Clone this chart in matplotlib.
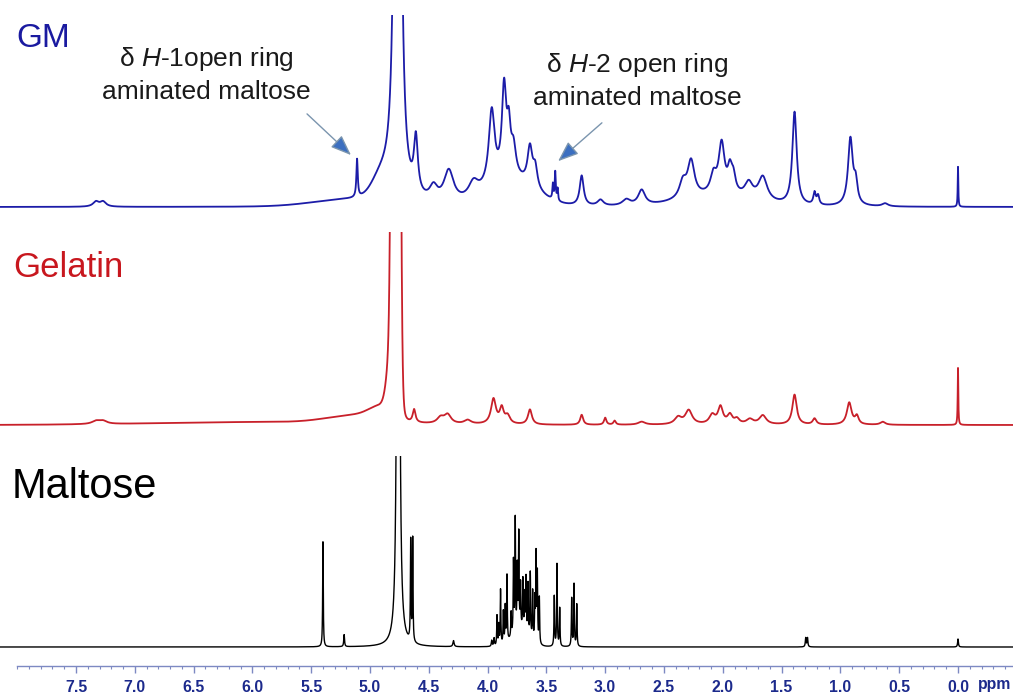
import numpy as np
import matplotlib
matplotlib.use("Agg")
import matplotlib.pyplot as plt
from matplotlib.ticker import FixedLocator, FormatStrFormatter

# ---- data (ppm, height in px above baseline, half width in ppm)
gm_lorentz = [
    (4.765, 2500, 0.013),
    (7.33, 5, 0.03), (7.27, 5, 0.03),
    (5.11, 38, 0.007),
    (4.61, 55, 0.02),
    (4.46, 14, 0.04), (4.33, 32, 0.05), (4.12, 15, 0.05),
    (3.965, 74, 0.03), (3.86, 88, 0.022), (3.82, 42, 0.018), (3.78, 28, 0.025),
    (3.64, 38, 0.025), (3.595, 20, 0.022),
    (3.445, 15, 0.005), (3.425, 28, 0.005), (3.405, 12, 0.005),
    (3.20, 30, 0.02),
    (3.04, 6, 0.03), (2.82, 6, 0.04), (2.69, 15, 0.035),
    (2.34, 16, 0.035), (2.27, 36, 0.035),
    (2.08, 18, 0.03), (2.01, 50, 0.03), (1.94, 22, 0.022), (1.91, 16, 0.022),
    (1.78, 15, 0.04), (1.66, 24, 0.045),
    (1.39, 93, 0.022), (1.22, 12, 0.012), (1.19, 9, 0.012),
    (0.915, 67, 0.024), (0.87, 20, 0.018),
    (0.62, 3, 0.03),
    (0.0, 40, 0.003),
]
gm_gauss = [
    (4.90, 20, 0.08), (5.20, 6, 0.3),
    (3.80, 25, 0.2), (2.05, 10, 0.3),
]

gelatin_lorentz = [
    (7.33, 3, 0.04), (7.27, 3, 0.04),
    (4.625, 13, 0.014),
    (4.40, 6, 0.035), (4.34, 9, 0.035),
    (4.17, 4, 0.035),
    (3.95, 25, 0.025), (3.88, 15, 0.02), (3.83, 8, 0.025),
    (3.64, 15, 0.02),
    (3.20, 10, 0.015),
    (3.00, 7, 0.012), (2.92, 4, 0.012),
    (2.69, 3, 0.035),
    (2.38, 7, 0.035), (2.29, 14, 0.035),
    (2.09, 9, 0.03), (2.02, 17, 0.025), (1.94, 9, 0.025), (1.88, 5, 0.025),
    (1.77, 5, 0.035), (1.66, 9, 0.035),
    (1.39, 30, 0.022), (1.22, 6, 0.018),
    (0.925, 22, 0.024), (0.86, 8, 0.018),
    (0.64, 3, 0.025),
    (0.0, 57, 0.003),
]
gelatin_gauss = [
    (4.78, 3000, 0.02),
    (4.80, 100, 0.04), (4.90, 12, 0.1), (5.10, 8, 0.25), (5.90, 3, 0.9),
]

maltose_lorentz = [
    (4.76, 3000, 0.005),
    (5.40, 105, 0.003),
    (5.22, 12, 0.004),
    (4.654, 100, 0.003), (4.637, 103, 0.003),
    (4.29, 6, 0.006),
    (3.965, 6, 0.004), (3.945, 8, 0.004), (3.92, 30, 0.003), (3.905, 20, 0.003),
    (3.89, 55, 0.003), (3.866, 32, 0.003), (3.85, 36, 0.003), (3.835, 66, 0.003),
    (3.80, 24, 0.003), (3.78, 72, 0.003), (3.765, 112, 0.003), (3.748, 62, 0.003),
    (3.735, 95, 0.003), (3.72, 44, 0.003), (3.70, 50, 0.003), (3.685, 36, 0.003),
    (3.673, 54, 0.003), (3.656, 50, 0.003), (3.637, 64, 0.003), (3.617, 48, 0.003),
    (3.598, 40, 0.003), (3.588, 86, 0.003), (3.577, 68, 0.003), (3.56, 46, 0.003),
    (3.433, 50, 0.003), (3.41, 82, 0.003), (3.387, 38, 0.003),
    (3.285, 48, 0.003), (3.265, 62, 0.003), (3.242, 42, 0.003),
    (1.295, 9, 0.004), (1.28, 9, 0.004),
    (0.0, 8, 0.004),
]
maltose_gauss = [
    (3.72, 16, 0.07),
]

major_ticks = [7.5, 7.0, 6.5, 6.0, 5.5, 5.0, 4.5, 4.0, 3.5, 3.0, 2.5, 2.0, 1.5, 1.0, 0.5, 0.0]

W, H = 1013, 693
ppm = np.linspace(8.3, -0.6, 8901)


def spectrum(lorentz, gauss):
    y = np.zeros_like(ppm)
    for x0, h, g in lorentz:
        y += h * g ** 2 / (g ** 2 + (ppm - x0) ** 2)
    for x0, h, s in gauss:
        y += h * np.exp(-((ppm - x0) ** 2) / (2 * s ** 2))
    return y


def band_axes(fig, top, bottom, baseline):
    """Axes covering a horizontal band given in pixels from the top."""
    ax = fig.add_axes([0, 1 - bottom / H, 1, (bottom - top) / H])
    ax.set_xlim(958 / 117.6, (958 - W) / 117.6)
    ax.set_ylim(-(bottom - baseline), baseline - top)
    ax.axis("off")
    return ax


plt.rcParams["mathtext.fontset"] = "custom"
plt.rcParams["mathtext.rm"] = "Liberation Sans"
plt.rcParams["mathtext.it"] = "Liberation Sans:italic"

fig = plt.figure(figsize=(W / 100, H / 100), dpi=100)

ax_gm = band_axes(fig, 15, 215, 207)
ax_gm.plot(ppm, spectrum(gm_lorentz, gm_gauss), color="#1c1ca8", lw=1.3)

ax_gel = band_axes(fig, 232, 432, 425)
ax_gel.plot(ppm, spectrum(gelatin_lorentz, gelatin_gauss), color="#c8202a", lw=1.3)

ax_mal = band_axes(fig, 456, 660, 647)
ax_mal.plot(ppm, spectrum(maltose_lorentz, maltose_gauss), color="black", lw=1.0)

# ppm scale
ax_scale = fig.add_axes([0, 1 - 666 / H, 1, 0.0001])
ax_scale.set_xlim(958 / 117.6, (958 - W) / 117.6)
for side in ["top", "left", "right"]:
    ax_scale.spines[side].set_visible(False)
ax_scale.spines["bottom"].set_color("#7d89c2")
ax_scale.spines["bottom"].set_linewidth(1.0)
ax_scale.spines["bottom"].set_bounds(8.0, (958 - W) / 117.6)
ax_scale.set_yticks([])
ax_scale.xaxis.set_major_locator(FixedLocator(major_ticks))
ax_scale.xaxis.set_minor_locator(FixedLocator(np.round(np.arange(-0.4, 8.05, 0.1), 1)))
ax_scale.xaxis.set_major_formatter(FormatStrFormatter("%.1f"))
ax_scale.tick_params(axis="x", which="major", direction="out", length=5, width=1,
                     color="#7d89c2", pad=5, labelsize=11.4, labelcolor="#1c2a8c")
ax_scale.tick_params(axis="x", which="minor", direction="out", length=2.5, width=0.8,
                     color="#7d89c2")
for lab in ax_scale.get_xticklabels():
    lab.set_fontfamily("Liberation Sans")
    lab.set_fontweight("bold")
fig.text(978 / W, 1 - 689 / H, "ppm", fontsize=11.4, fontweight="bold",
         family="Liberation Sans", color="#1c2a8c", ha="left", va="baseline")

# spectrum names
fig.text(16 / W, 1 - 47 / H, "GM", fontsize=24, family="Liberation Sans",
         color="#1a1aa0", va="baseline")
fig.text(13 / W, 1 - 277 / H, "Gelatin", fontsize=25, family="Liberation Sans",
         color="#c8171e", va="baseline")
fig.text(12 / W, 1 - 498 / H, "Maltose", fontsize=30, family="Liberation Sans",
         color="black", va="baseline")

# annotations
txt_kw = dict(fontsize=19, family="Liberation Sans", color="#1a1a1a",
              ha="center", va="baseline")
fig.text(206 / W, 1 - 66 / H, r"δ $\it{H}$-1open ring", **txt_kw)
fig.text(206 / W, 1 - 99 / H, "aminated maltose", **txt_kw)
fig.text(637 / W, 1 - 72 / H, r"δ $\it{H}$-2 open ring", **txt_kw)
fig.text(637 / W, 1 - 105 / H, "aminated maltose", **txt_kw)

arrow_kw = dict(arrowstyle="-|>,head_length=0.9,head_width=0.35", lw=1.0,
                ec="#7b95ae", fc="#3c6fc0", mutation_scale=14)
ax_gm.annotate("", xy=(353 / W, 1 - 157 / H), xytext=(305 / W, 1 - 112 / H),
               xycoords="figure fraction", textcoords="figure fraction",
               arrowprops=arrow_kw)
ax_gm.annotate("", xy=(556 / W, 1 - 163 / H), xytext=(604 / W, 1 - 121 / H),
               xycoords="figure fraction", textcoords="figure fraction",
               arrowprops=arrow_kw)

fig.savefig("out.png", dpi=100)
